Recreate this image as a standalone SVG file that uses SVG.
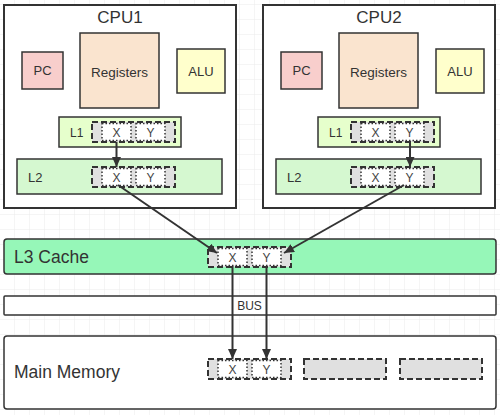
<svg xmlns="http://www.w3.org/2000/svg" width="500" height="415" viewBox="0 0 500 415">
<defs>
<pattern id="grid" x="0" y="5" width="15" height="15" patternUnits="userSpaceOnUse">
<path d="M15 0 V15 M0 15 H15" fill="none" stroke="#ebebeb" stroke-width="1"/>
</pattern>
<marker id="arr" markerWidth="11" markerHeight="9" refX="10" refY="4.5" orient="auto" markerUnits="userSpaceOnUse">
<path d="M0,0 L10,4.5 L0,9 Z" fill="#333333"/>
</marker>
<g id="cell">
<rect x="0" y="0" width="83" height="20" fill="#e0e0e0" stroke="#333333" stroke-width="2" stroke-dasharray="6 3"/>
<rect x="10" y="1.5" width="29" height="17" fill="#ffffff" stroke="#333333" stroke-width="1.5" stroke-dasharray="1.5 2"/>
<rect x="44" y="1.5" width="29" height="17" fill="#ffffff" stroke="#333333" stroke-width="1.5" stroke-dasharray="1.5 2"/>
<text x="24.5" y="14.5" class="xy">X</text>
<text x="58.5" y="14.5" class="xy">Y</text>
</g>
</defs>
<style>
text{font-family:"Liberation Sans",Arial,sans-serif;fill:#333333}
.box{stroke:#333333;stroke-width:1.5}
.cpu{fill:#ffffff;stroke:#333333;stroke-width:2}
.xy{font-size:12px;text-anchor:middle;fill:#444444;font-weight:300}
.mid{text-anchor:middle}
.conn{stroke:#333333;stroke-width:2;fill:none;marker-end:url(#arr)}
</style>
<rect width="500" height="415" fill="#ffffff"/>
<rect width="500" height="415" fill="url(#grid)"/>

<g id="cpu1">
<rect class="cpu" x="4" y="5" width="232" height="203"/>
<text class="mid" x="120" y="23" font-size="17">CPU1</text>
<g id="cpu1-pc"><rect class="box" x="22" y="52" width="41" height="37" fill="#f8cecc"/><text class="mid" x="42.5" y="75" font-size="13">PC</text></g>
<g id="cpu1-reg"><rect class="box" x="80" y="33" width="79" height="75" fill="#fae4cf"/><text class="mid" x="119.5" y="77" font-size="13.5">Registers</text></g>
<g id="cpu1-alu"><rect class="box" x="177" y="49" width="48" height="44" fill="#ffffcc"/><text class="mid" x="201" y="76" font-size="13">ALU</text></g>
<g id="cpu1-l1"><rect class="box" x="59" y="117" width="122" height="30" fill="#e6ffcc"/><text x="70" y="137" font-size="12">L1</text><use href="#cell" x="92" y="122"/></g>
<g id="cpu1-l2"><rect class="box" x="17" y="159" width="205" height="35" fill="#d5f8d0"/><text x="28" y="182" font-size="13">L2</text><use href="#cell" x="92" y="167"/></g>
</g>

<g id="cpu2">
<rect class="cpu" x="263" y="5" width="232" height="203"/>
<text class="mid" x="379" y="23" font-size="17">CPU2</text>
<g id="cpu2-pc"><rect class="box" x="281" y="52" width="41" height="37" fill="#f8cecc"/><text class="mid" x="301.5" y="75" font-size="13">PC</text></g>
<g id="cpu2-reg"><rect class="box" x="339" y="33" width="79" height="75" fill="#fae4cf"/><text class="mid" x="378.5" y="77" font-size="13.5">Registers</text></g>
<g id="cpu2-alu"><rect class="box" x="436" y="49" width="48" height="44" fill="#ffffcc"/><text class="mid" x="460" y="76" font-size="13">ALU</text></g>
<g id="cpu2-l1"><rect class="box" x="318" y="117" width="122" height="30" fill="#e6ffcc"/><text x="329" y="137" font-size="12">L1</text><use href="#cell" x="351" y="122"/></g>
<g id="cpu2-l2"><rect class="box" x="276" y="159" width="205" height="35" fill="#d5f8d0"/><text x="287" y="182" font-size="13">L2</text><use href="#cell" x="351" y="167"/></g>
</g>

<g id="l3">
<rect class="box" x="4" y="239" width="492" height="35" rx="3" fill="#96f7b8"/>
<text x="14" y="263" font-size="17.5">L3 Cache</text>
<use href="#cell" x="208" y="247"/>
</g>

<g id="bus">
<rect class="box" x="4" y="296" width="492" height="19" rx="1" fill="#ffffff"/>
<text class="mid" x="249.5" y="310" font-size="12">BUS</text>
</g>

<g id="memory">
<rect class="box" x="4" y="336" width="492" height="73" rx="3" fill="#ffffff"/>
<text x="14" y="378" font-size="17.5">Main Memory</text>
<use href="#cell" x="208" y="359"/>
<rect x="304" y="359" width="82" height="20" fill="#e0e0e0" stroke="#333333" stroke-width="2" stroke-dasharray="6 3"/>
<rect x="400" y="359" width="82" height="20" fill="#e0e0e0" stroke="#333333" stroke-width="2" stroke-dasharray="6 3"/>
</g>

<g id="connectors">
<line class="conn" x1="116.5" y1="142" x2="116.5" y2="167"/>
<line class="conn" x1="410" y1="142" x2="410" y2="167"/>
<line class="conn" x1="118" y1="185" x2="217" y2="253"/>
<line class="conn" x1="404" y1="185" x2="284" y2="253"/>
<line class="conn" x1="232.5" y1="266" x2="232.5" y2="359"/>
<line class="conn" x1="266.5" y1="266" x2="266.5" y2="359"/>
</g>
</svg>
